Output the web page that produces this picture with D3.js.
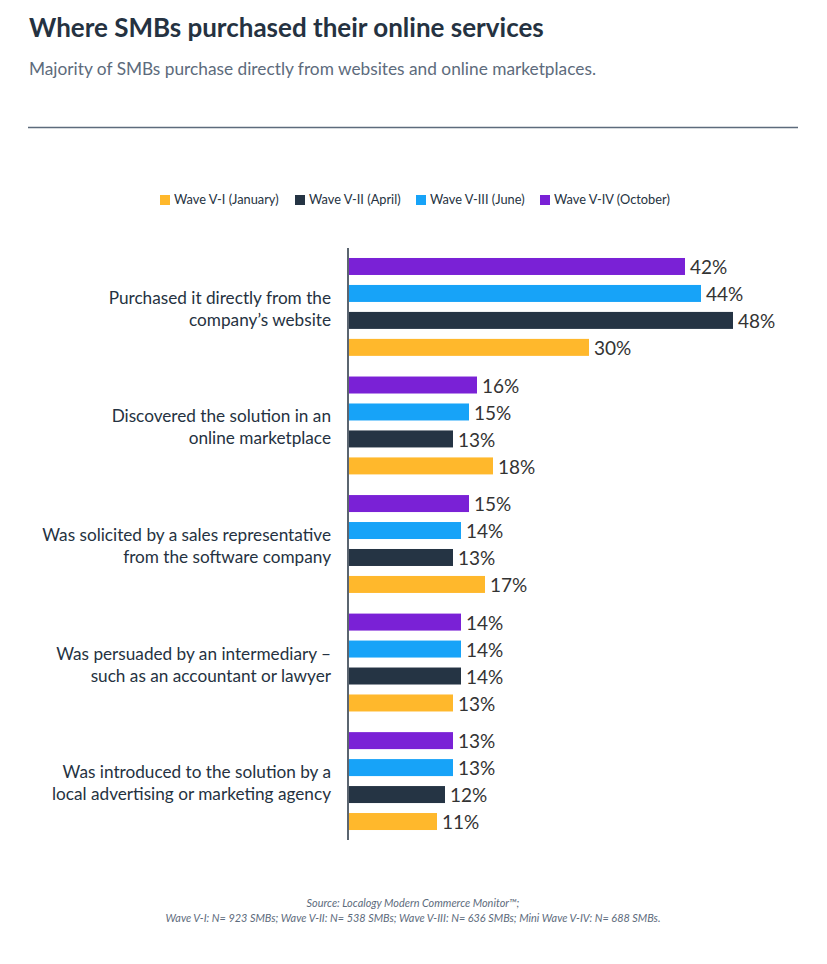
<!DOCTYPE html>
<html>
<head>
<meta charset="utf-8">
<script src="https://cdn.jsdelivr.net/npm/d3@7"></script>
<style>
  body { margin: 0; background: #fff; font-family: Lato, "Open Sans", sans-serif; }
</style>
</head>
<body>
<div id="vis"></div>
<script>
// chart data
var categories = [
  ["Purchased it directly from the", "company\u2019s website"],
  ["Discovered the solution in an", "online marketplace"],
  ["Was solicited by a sales representative", "from the software company"],
  ["Was persuaded by an intermediary \u2013", "such as an accountant or lawyer"],
  ["Was introduced to the solution by a", "local advertising or marketing agency"]
];
// series in drawing order, top to bottom within each group
var seriesNames = ["Wave V-IV (October)", "Wave V-III (June)", "Wave V-II (April)", "Wave V-I (January)"];
var waveIV  = [42, 16, 15, 14, 13];
var waveIII = [44, 15, 14, 14, 13];
var waveII  = [48, 13, 13, 14, 12];
var waveI   = [30, 18, 17, 13, 11];
var legendOrder = ["Wave V-I (January)", "Wave V-II (April)", "Wave V-III (June)", "Wave V-IV (October)"];
var seriesColors = ["#7a21d6", "#17a3f8", "#253444", "#ffb82c"];

var width = 827, height = 964;
var textColor = "#253241";

var svg = d3.select("#vis").append("svg")
    .attr("width", width)
    .attr("height", height);

// title + subtitle
svg.append("text")
    .attr("x", 29).attr("y", 37)
    .attr("font-size", "26px")
    .attr("font-weight", "bold")
    .attr("fill", textColor)
    .text("Where SMBs purchased their online services");

svg.append("text")
    .attr("x", 29).attr("y", 75)
    .attr("font-size", "17.3px")
    .attr("fill", "#5d6b7c")
    .text("Majority of SMBs purchase directly from websites and online marketplaces.");

svg.append("line")
    .attr("x1", 28).attr("x2", 798)
    .attr("y1", 127.5).attr("y2", 127.5)
    .attr("stroke", "#5d6b7c")
    .attr("stroke-width", 1.3);

// scales
var seriesValues = [waveIV, waveIII, waveII, waveI];
var color = d3.scaleOrdinal().domain(seriesNames).range(seriesColors);

var y0 = d3.scaleBand()
    .domain(d3.range(categories.length))
    .range([253, 835])
    .paddingInner(0.09);

var y1 = d3.scaleBand()
    .domain(seriesNames)
    .range([0, y0.bandwidth()])
    .paddingInner(0.37)
    .paddingOuter(0.185);

var x = d3.scaleLinear().domain([0, 50]).range([349, 749]);

var rows = [];
categories.forEach(function(c, i) {
  seriesNames.forEach(function(s, j) {
    rows.push({cat: i, series: s, value: seriesValues[j][i]});
  });
});

// bars
var graph = svg.append("g");
graph.selectAll(".bar")
  .data(rows)
  .enter().append("rect")
    .attr("class", "bar")
    .attr("x", x(0))
    .attr("y", function(d) { return y0(d.cat) + y1(d.series); })
    .attr("width", function(d) { return x(d.value) - x(0); })
    .attr("height", y1.bandwidth())
    .attr("fill", function(d) { return color(d.series); });

// value labels
graph.selectAll(".val")
  .data(rows)
  .enter().append("text")
    .attr("class", "val")
    .attr("x", function(d) { return x(d.value) + 5; })
    .attr("y", function(d) { return y0(d.cat) + y1(d.series) + y1.bandwidth() / 2 + 1; })
    .attr("dy", "0.36em")
    .attr("font-size", "19px")
    .attr("fill", "#333")
    .text(function(d) { return d.value + "%"; });

// axis line
svg.append("line")
    .attr("x1", 348).attr("x2", 348)
    .attr("y1", 248).attr("y2", 840)
    .attr("stroke", textColor)
    .attr("stroke-width", 1.5);

// category labels
var catLabels = svg.selectAll(".cat")
  .data(categories)
  .enter().append("text")
    .attr("class", "cat")
    .attr("text-anchor", "end")
    .attr("font-size", "17.2px")
    .attr("fill", textColor);

catLabels.selectAll("tspan")
  .data(function(d, i) { return d.map(function(t, k) { return {t: t, k: k, n: d.length, i: i}; }); })
  .enter().append("tspan")
    .attr("x", 331)
    .attr("y", function(d) { return y0(d.i) + y0.bandwidth() / 2 + (d.k - (d.n - 1) / 2) * 22 + 2; })
    .attr("dy", "0.35em")
    .text(function(d) { return d.t; });

// legend
var legend = svg.append("g");
var legendX = [160, 295, 416, 540];
legendOrder.forEach(function(s, i) {
  legend.append("rect")
    .attr("x", legendX[i]).attr("y", 195)
    .attr("width", 10).attr("height", 10)
    .attr("fill", color(s));
  legend.append("text")
    .attr("x", legendX[i] + 14).attr("y", 200)
    .attr("dy", "0.35em")
    .attr("font-size", "12.8px")
    .attr("fill", textColor)
    .text(s);
});

// source note
svg.append("text")
    .attr("x", 413).attr("y", 907)
    .attr("text-anchor", "middle")
    .attr("font-size", "10.9px")
    .attr("font-style", "italic")
    .attr("fill", "#5d6b7c")
    .text("Source: Localogy Modern Commerce Monitor\u2122;");

svg.append("text")
    .attr("x", 413).attr("y", 922)
    .attr("text-anchor", "middle")
    .attr("font-size", "10.9px")
    .attr("font-style", "italic")
    .attr("fill", "#5d6b7c")
    .text("Wave V-I:  N= 923 SMBs; Wave V-II: N= 538 SMBs; Wave V-III: N= 636 SMBs; Mini Wave V-IV: N= 688 SMBs.");
</script>
</body>
</html>
